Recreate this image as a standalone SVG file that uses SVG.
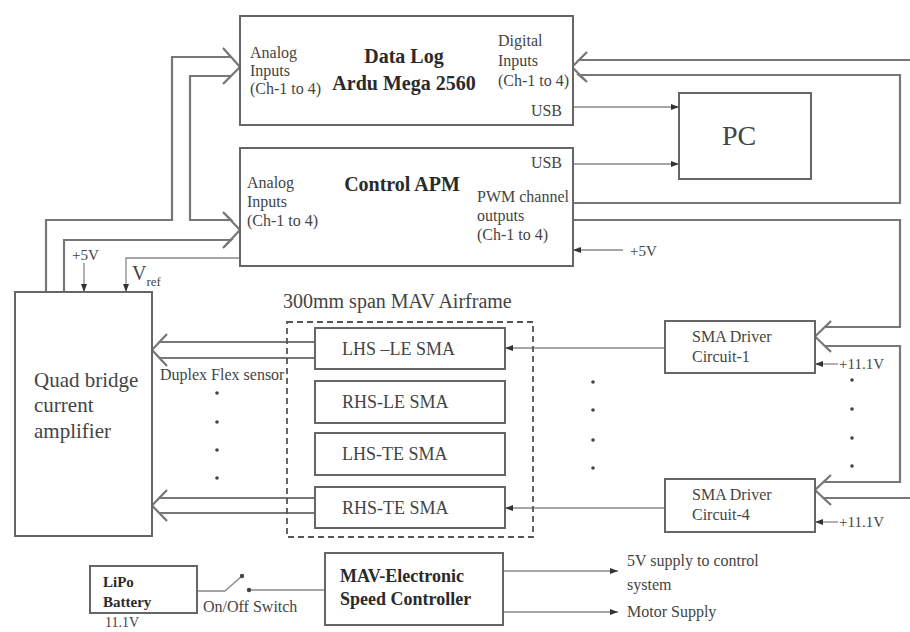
<svg xmlns="http://www.w3.org/2000/svg" width="910" height="632" viewBox="0 0 910 632">
  <defs>
    <style>
      .box { fill: #fff; stroke: #666; stroke-width: 2; }
      .dash { fill: none; stroke: #555; stroke-width: 1.8; stroke-dasharray: 6 4; }
      .bus { fill: none; stroke: #777; stroke-width: 2.2; stroke-linejoin: miter; }
      .wire { fill: none; stroke: #888; stroke-width: 1.3; }
      .t { font-family: "Liberation Serif", "Times New Roman", serif; fill: #444; }
      .s { font-size: 16px; }
      .b { font-weight: bold; fill: #2a2a2a; }
      .dot { fill: #444; }
    </style>
    <marker id="ah" viewBox="0 0 8 6" refX="8" refY="3" markerWidth="8" markerHeight="6" markerUnits="userSpaceOnUse" orient="auto">
      <path d="M0,0 L8,3 L0,6 z" fill="#333"/>
    </marker>
  </defs>

  <rect width="910" height="632" fill="#fff"/>

  <!-- connectors -->
  <g id="connectors">
    <!-- analog bus from the amplifier to both boards -->
    <path class="bus" d="M46,292 V220 H172 V57 H231 L223,48 L240,67 L223,84 L231,76 H190 V220 H231 L223,212 L240,230 L223,248 L231,240 H64 V292"/>
    <!-- digital inputs bus and PWM channel return -->
    <path class="bus" d="M910,60 H579 L587,52 L572,67 L587,82 L579,75 H900 V203 H573"/>
    <!-- PWM outputs to SMA driver circuits -->
    <path class="bus" d="M573,220 H900 V327 H825 L831,321 L815,336.5 L831,352 L825,346 H900 V482 H823.5 L831,475 L815,490 L831,505 L823.5,498 H910"/>
    <!-- flex sensor buses into the amplifier -->
    <path class="bus" d="M315,342 H159.5 L167,334 L152,350 L167,366 L159.5,358 H315"/>
    <path class="bus" d="M315,498 H159.3 L167,490 L152,505.5 L167,521 L159.3,513 H315"/>

    <!-- USB links -->
    <line class="wire" x1="573" y1="107" x2="679" y2="107" marker-end="url(#ah)"/>
    <line class="wire" x1="573" y1="164" x2="679" y2="164" marker-end="url(#ah)"/>
    <!-- +5V to APM -->
    <line class="wire" x1="623" y1="250" x2="573" y2="250" marker-end="url(#ah)"/>
    <!-- +5V and Vref to amplifier -->
    <line class="wire" x1="84" y1="263" x2="84" y2="292" marker-end="url(#ah)"/>
    <path class="wire" d="M240,258 H126 V292" marker-end="url(#ah)"/>
    <!-- driver outputs to SMA actuators -->
    <line class="wire" x1="665" y1="348" x2="505" y2="348" marker-end="url(#ah)"/>
    <line class="wire" x1="665" y1="508" x2="505" y2="508" marker-end="url(#ah)"/>
    <!-- +11.1V supplies -->
    <line class="wire" x1="838" y1="364" x2="815" y2="364" marker-end="url(#ah)"/>
    <line class="wire" x1="838" y1="522" x2="815" y2="522" marker-end="url(#ah)"/>
    <!-- battery, switch, ESC -->
    <path class="wire" d="M197,591 H225 L242,576"/>
    <line class="wire" x1="249" y1="590" x2="325" y2="590"/>
    <line class="wire" x1="503" y1="571" x2="618" y2="571" marker-end="url(#ah)"/>
    <line class="wire" x1="503" y1="612" x2="618" y2="612" marker-end="url(#ah)"/>
  </g>

  <!-- data logger board -->
  <g id="datalog">
    <rect class="box" x="240" y="16" width="333" height="109"/>
    <text class="t b" x="404" y="63" font-size="20" text-anchor="middle">Data Log</text>
    <text class="t b" x="404" y="90" font-size="20" text-anchor="middle">Ardu Mega 2560</text>
    <text class="t s" x="250" y="58">Analog</text>
    <text class="t s" x="250" y="76">Inputs</text>
    <text class="t s" x="250" y="94">(Ch-1 to 4)</text>
    <text class="t s" x="498" y="46">Digital</text>
    <text class="t s" x="498" y="66">Inputs</text>
    <text class="t s" x="498" y="86">(Ch-1 to 4)</text>
    <text class="t s" x="562" y="116" text-anchor="end">USB</text>
  </g>

  <!-- flight controller -->
  <g id="apm">
    <rect class="box" x="240" y="148" width="333" height="118"/>
    <text class="t b" x="402" y="191" font-size="20" text-anchor="middle">Control APM</text>
    <text class="t s" x="562" y="168" text-anchor="end">USB</text>
    <text class="t s" x="247" y="188">Analog</text>
    <text class="t s" x="247" y="207">Inputs</text>
    <text class="t s" x="247" y="226">(Ch-1 to 4)</text>
    <text class="t s" x="477" y="202">PWM channel</text>
    <text class="t s" x="477" y="221">outputs</text>
    <text class="t s" x="477" y="240">(Ch-1 to 4)</text>
    <text class="t" x="630" y="256" font-size="15">+5V</text>
  </g>

  <!-- PC -->
  <g id="pc">
    <rect class="box" x="679" y="93" width="132" height="86"/>
    <text class="t" x="739" y="145" font-size="28" text-anchor="middle">PC</text>
  </g>

  <!-- current amplifier -->
  <g id="amplifier">
    <rect class="box" x="15" y="292" width="137" height="244"/>
    <text class="t" x="34" y="387" font-size="21">Quad bridge</text>
    <text class="t" x="34" y="412" font-size="21">current</text>
    <text class="t" x="34" y="438" font-size="21">amplifier</text>
    <text class="t" x="72" y="260" font-size="15">+5V</text>
    <text class="t" x="132" y="280" font-size="20">V<tspan font-size="13" dy="6">ref</tspan></text>
    <text class="t s" x="160" y="380">Duplex Flex sensor</text>
    <circle class="dot" cx="217" cy="393" r="1.8"/>
    <circle class="dot" cx="217" cy="422" r="1.8"/>
    <circle class="dot" cx="217" cy="450" r="1.8"/>
    <circle class="dot" cx="217" cy="478" r="1.8"/>
  </g>

  <!-- airframe with SMA actuators -->
  <g id="airframe">
    <text class="t" x="283" y="308" font-size="20">300mm span MAV Airframe</text>
    <rect class="dash" x="287" y="322" width="246" height="215"/>
  </g>
  <g id="sma-lhs-le">
    <rect class="box" x="315" y="328" width="190" height="41"/>
    <text class="t" x="342" y="355" font-size="18">LHS –LE SMA</text>
  </g>
  <g id="sma-rhs-le">
    <rect class="box" x="315" y="381" width="190" height="42"/>
    <text class="t" x="342" y="408" font-size="18">RHS-LE SMA</text>
  </g>
  <g id="sma-lhs-te">
    <rect class="box" x="315" y="433" width="190" height="42"/>
    <text class="t" x="342" y="460" font-size="18">LHS-TE SMA</text>
  </g>
  <g id="sma-rhs-te">
    <rect class="box" x="315" y="487" width="190" height="41"/>
    <text class="t" x="342" y="514" font-size="18">RHS-TE SMA</text>
  </g>

  <!-- SMA driver circuits -->
  <g id="driver-1">
    <rect class="box" x="665" y="321" width="150" height="52"/>
    <text class="t s" x="692" y="342">SMA Driver</text>
    <text class="t s" x="692" y="362">Circuit-1</text>
    <text class="t" x="839" y="369" font-size="15">+11.1V</text>
  </g>
  <g id="driver-4">
    <rect class="box" x="665" y="479" width="150" height="53"/>
    <text class="t s" x="692" y="500">SMA Driver</text>
    <text class="t s" x="692" y="520">Circuit-4</text>
    <text class="t" x="839" y="527" font-size="15">+11.1V</text>
  </g>
  <g id="driver-dots">
    <circle class="dot" cx="593" cy="382" r="1.8"/>
    <circle class="dot" cx="593" cy="410" r="1.8"/>
    <circle class="dot" cx="593" cy="440" r="1.8"/>
    <circle class="dot" cx="593" cy="468" r="1.8"/>
    <circle class="dot" cx="852" cy="380" r="1.8"/>
    <circle class="dot" cx="852" cy="409" r="1.8"/>
    <circle class="dot" cx="852" cy="438" r="1.8"/>
    <circle class="dot" cx="852" cy="466" r="1.8"/>
  </g>

  <!-- power chain -->
  <g id="battery">
    <rect class="box" x="90" y="566" width="107" height="47"/>
    <text class="t b" x="103" y="587" font-size="15">LiPo</text>
    <text class="t b" x="103" y="607" font-size="15">Battery</text>
    <text class="t" x="105" y="627" font-size="14">11.1V</text>
  </g>
  <g id="switch">
    <circle class="dot" cx="242" cy="576" r="2.2"/>
    <circle class="dot" cx="249" cy="590" r="2.2"/>
    <text class="t s" x="203" y="612">On/Off Switch</text>
  </g>
  <g id="esc">
    <rect class="box" x="325" y="553" width="178" height="72"/>
    <text class="t b" x="340" y="582" font-size="18">MAV-Electronic</text>
    <text class="t b" x="340" y="605" font-size="18">Speed Controller</text>
  </g>
  <g id="outputs">
    <text class="t s" x="627" y="566">5V supply  to control</text>
    <text class="t s" x="627" y="590">system</text>
    <text class="t s" x="627" y="617">Motor Supply</text>
  </g>
</svg>
